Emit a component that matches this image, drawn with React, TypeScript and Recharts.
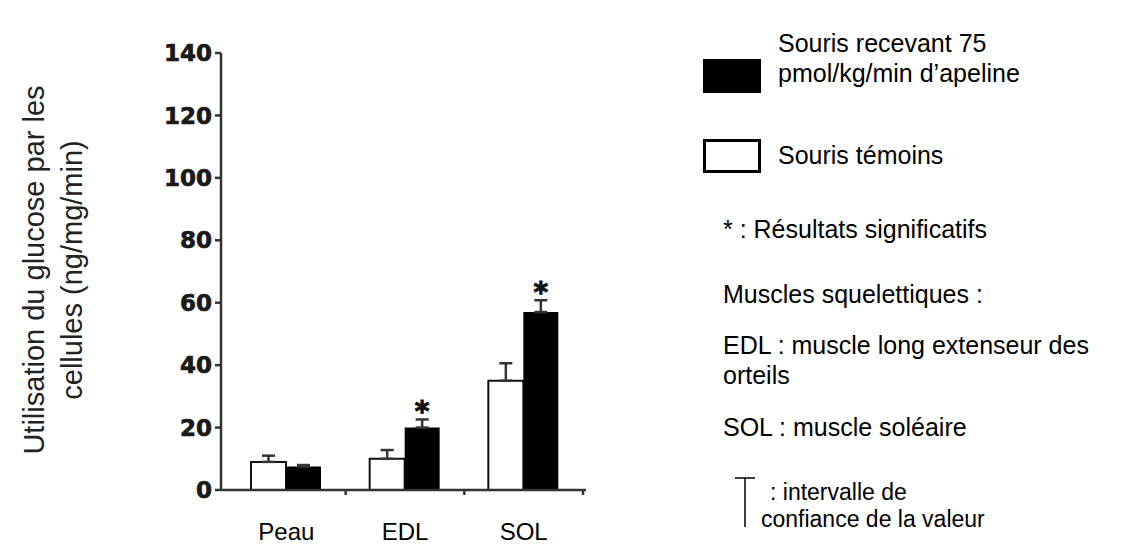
import { BarChart, Bar, XAxis, YAxis, ErrorBar, LabelList } from "recharts";

// Utilisation du glucose (ng/mg/min) par tissu
const categories = ["Peau", "EDL", "SOL"];
const controlValues = [9, 10, 35];
const controlErrors = [2, 2.8, 5.6];
const apelineValues = [7.5, 20, 57];
const apelineErrors = [0.5, 2.6, 3.8];
const significant = [false, true, true];
const yTicks = [0, 20, 40, 60, 80, 100, 120, 140];

const data = categories.map((name, i) => ({
  name,
  control: controlValues[i],
  controlErr: [0, controlErrors[i]],
  apeline: apelineValues[i],
  apelineErr: [0, apelineErrors[i]],
}));

const CHART_W = 620;
const CHART_H = 552;
const PAD_LEFT = 6;
const PAD_RIGHT = 3;
const PLOT_W = 586 - 221;
const BAND = (PLOT_W - PAD_LEFT - PAD_RIGHT) / categories.length;

const sans = "'Liberation Sans', Arial, sans-serif";

function CategoryTick(props: any) {
  const { x, y, payload } = props;
  return (
    <g>
      <line x1={x + BAND / 2} y1={y} x2={x + BAND / 2} y2={y + 5} stroke="#333" strokeWidth={2.5} />
      <text x={x} y={y + 50} textAnchor="middle" fontFamily={sans} fontSize={24} fill="#000">
        {payload.value}
      </text>
    </g>
  );
}

function renderStar(props: any) {
  const { x, y, width, height, value, index } = props;
  if (!significant[index]) return null;
  const top = Number(y) - apelineErrors[index] * (Number(height) / Number(value));
  return (
    <text
      x={Number(x) + Number(width) / 2}
      y={top + 2}
      textAnchor="middle"
      fontFamily="'DejaVu Sans', sans-serif"
      fontWeight="bold"
      fontSize={28}
      fill="#111"
      stroke="#111"
      strokeWidth={1}
    >
      *
    </text>
  );
}

export default function App() {
  return (
    <div style={{ position: "absolute", left: 0, top: 0, width: 1138, height: 552, background: "#fff" }}>
      <div style={{ position: "absolute", left: 0, top: 0 }}>
        <BarChart
          width={CHART_W}
          height={CHART_H}
          data={data}
          margin={{ top: 53, right: CHART_W - 586, bottom: 0, left: 0 }}
          barSize={35}
          barGap={0}
        >
          <XAxis
            dataKey="name"
            height={62}
            padding={{ left: PAD_LEFT, right: PAD_RIGHT }}
            axisLine={{ stroke: "#333", strokeWidth: 2.5 }}
            tickLine={false}
            tickSize={0}
            tickMargin={0}
            tick={<CategoryTick />}
            interval={0}
          />
          <YAxis
            width={221}
            domain={[0, 140]}
            ticks={yTicks}
            interval={0}
            axisLine={{ stroke: "#333", strokeWidth: 2.5 }}
            tickLine={{ stroke: "#333", strokeWidth: 2.5 }}
            tickSize={6}
            tickMargin={3}
            tick={{
              fontFamily: "'DejaVu Sans', sans-serif",
              fontWeight: "bold",
              fontSize: 23,
              fill: "#1a1a1a",
              stroke: "#1a1a1a",
              strokeWidth: 0.7,
            }}
          />
          <Bar dataKey="control" fill="#fff" stroke="#111" strokeWidth={2} isAnimationActive={false}>
            <ErrorBar dataKey="controlErr" width={6.5} stroke="#333" strokeWidth={2.5} isAnimationActive={false} />
          </Bar>
          <Bar dataKey="apeline" fill="#000" isAnimationActive={false}>
            <ErrorBar dataKey="apelineErr" width={6.5} stroke="#333" strokeWidth={2.5} isAnimationActive={false} />
            <LabelList dataKey="apeline" content={renderStar} />
          </Bar>
        </BarChart>
      </div>
      <svg width={1138} height={552} style={{ position: "absolute", left: 0, top: 0, pointerEvents: "none" }}>
        <g fontFamily={sans} fill="#222" fontSize={29}>
          <text transform="translate(44, 270) rotate(-90)" textAnchor="middle">
            Utilisation du glucose par les
          </text>
          <text transform="translate(82, 270) rotate(-90)" textAnchor="middle">
            cellules (ng/mg/min)
          </text>
        </g>
        <g fontFamily={sans} fill="#000" fontSize={25}>
          <rect x={703} y={59} width={58} height={34} fill="#000" />
          <text x={778} y={52}>Souris recevant 75</text>
          <text x={778} y={82}>pmol/kg/min d’apeline</text>
          <rect x={704.5} y={140.5} width={55} height={31} fill="#fff" stroke="#000" strokeWidth={3} />
          <text x={778} y={164}>Souris témoins</text>
          <text x={723} y={238}>* : Résultats significatifs</text>
          <text x={723} y={303}>Muscles squelettiques :</text>
          <text x={723} y={354}>EDL : muscle long extenseur des</text>
          <text x={723} y={384}>orteils</text>
          <text x={723} y={436}>SOL : muscle soléaire</text>
          <line x1={745} y1={478} x2={745} y2={527} stroke="#000" strokeWidth={1.5} />
          <line x1={735} y1={478} x2={755} y2={478} stroke="#000" strokeWidth={1.5} />
          <text x={770} y={500} fontSize={23}>: intervalle de</text>
          <text x={761} y={527} fontSize={23}>confiance de la valeur</text>
        </g>
      </svg>
    </div>
  );
}
